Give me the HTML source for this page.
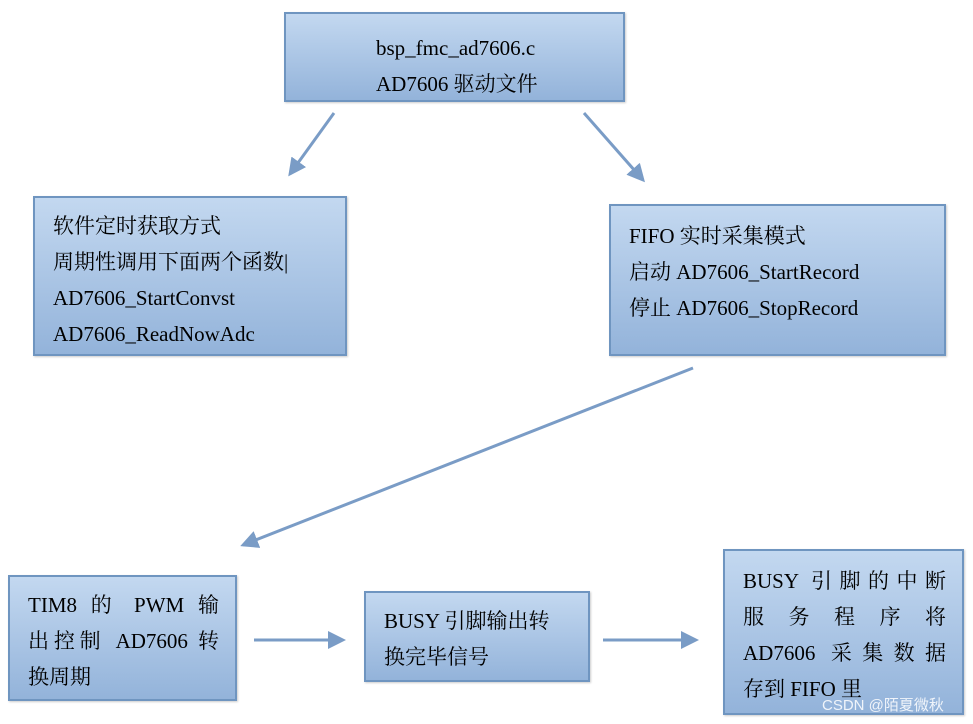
<!DOCTYPE html><html><head><meta charset="utf-8"><style>
body{margin:0;width:973px;height:724px;background:#fff;position:relative;overflow:hidden;font-family:"Liberation Serif","Noto Serif CJK SC",serif;font-size:21px;color:#000}
.b{position:absolute;box-sizing:border-box;border:2px solid #6f95c0;background:linear-gradient(#c3d8f0,#93b3da);box-shadow:1px 1px 2px rgba(0,0,0,.2);line-height:36px}
.j{text-align:justify;text-align-last:justify}
</style></head><body>
<svg width="973" height="724" style="position:absolute;left:0;top:0">
<defs><marker id="a" markerWidth="6" markerHeight="6" refX="5" refY="3" orient="auto" markerUnits="strokeWidth"><path d="M0,0L6,3L0,6z" fill="#7a9cc6"/></marker></defs>
<g stroke="#7a9cc6" stroke-width="3" marker-end="url(#a)">
<line x1="334" y1="113" x2="290" y2="174"/>
<line x1="584" y1="113" x2="643" y2="180"/>
<line x1="693" y1="368" x2="243" y2="545"/>
<line x1="254" y1="640" x2="343" y2="640"/>
<line x1="603" y1="640" x2="696" y2="640"/>
</g></svg>
<div class="b" style="left:284px;top:12px;width:341px;height:90px;padding:16px 0 0 90px">bsp_fmc_ad7606.c<br>AD7606 驱动文件</div>
<div class="b" style="left:33px;top:196px;width:314px;height:160px;padding:10px 0 0 18px">软件定时获取方式<br>周期性调用下面两个函数|<br>AD7606_StartConvst<br>AD7606_ReadNowAdc</div>
<div class="b" style="left:609px;top:204px;width:337px;height:152px;padding:12px 0 0 18px">FIFO 实时采集模式<br>启动 AD7606_StartRecord<br>停止 AD7606_StopRecord</div>
<div class="b" style="left:8px;top:575px;width:229px;height:126px;padding:10px 16px 0 18px"><div class="j">TIM8 的 PWM 输</div><div class="j">出控制 AD7606 转</div><div>换周期</div></div>
<div class="b" style="left:364px;top:591px;width:226px;height:91px;padding:10px 0 0 18px">BUSY 引脚输出转<br>换完毕信号</div>
<div class="b" style="left:723px;top:549px;width:241px;height:166px;padding:12px 16px 0 18px"><div class="j">BUSY 引脚的中断</div><div class="j">服 务 程 序 将</div><div class="j">AD7606 采集数据</div><div>存到 FIFO 里</div></div>
<div style="position:absolute;left:822px;top:694px;font:15px 'Liberation Sans','Noto Sans CJK SC',sans-serif;color:rgba(255,255,255,.85)">CSDN @陌夏微秋</div>
</body></html>
